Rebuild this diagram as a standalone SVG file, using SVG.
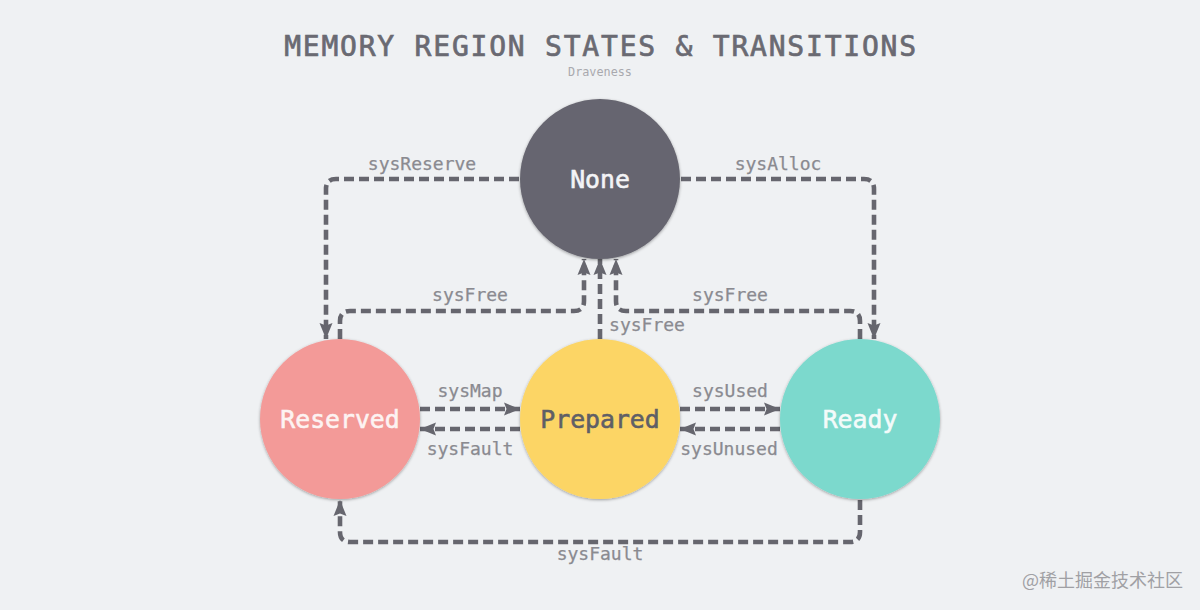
<svg xmlns="http://www.w3.org/2000/svg" width="1200" height="610" viewBox="0 0 1200 610">
<style>
text{font-family:"DejaVu Sans Mono","Liberation Mono",monospace;text-anchor:middle}
.t{font-size:28px;letter-spacing:1.78px;fill:#6a6a72;stroke:#6a6a72;stroke-width:.7px}
.s{font-size:11.8px;fill:#a9a9ae}
.l{font-size:18px;fill:#8a8a90;stroke:#8a8a90;stroke-width:.25px}
.n{font-size:24.8px;stroke-width:.6px}
.c{fill:none;stroke:#66666e;stroke-width:4.6;stroke-dasharray:10 5}
.w{font-family:"Noto Sans CJK SC","Noto Sans",sans-serif;font-size:18px;fill:#a0a0a4;text-anchor:end}
</style>
<defs>
<marker id="a" markerUnits="userSpaceOnUse" markerWidth="18" markerHeight="14" refX="16" refY="7" orient="auto"><path d="M0 .5L16 7L0 13.5L2.5 7Z" fill="#66666e"/></marker>
<filter id="sh" x="-10%" y="-10%" width="120%" height="120%"><feDropShadow dx="0" dy="1" stdDeviation="1.5" flood-color="#000" flood-opacity=".35"/></filter>
</defs>
<rect width="1200" height="610" fill="#eff1f3"/>
<text class="t" x="601" y="56">MEMORY REGION STATES &amp; TRANSITIONS</text>
<text class="s" x="600" y="76">Draveness</text>
<g id="connectors">
<path class="c" marker-end="url(#a)" d="M519 179H336Q326 179 326 189V339"/>
<path class="c" marker-end="url(#a)" d="M681 179H864Q874 179 874 189V339"/>
<path class="c" marker-end="url(#a)" d="M340 339V321Q340 311 350 311H574Q584 311 584 301V259"/>
<path class="c" marker-end="url(#a)" d="M600 339V259"/>
<path class="c" marker-end="url(#a)" d="M860 339V321Q860 311 850 311H626Q616 311 616 301V259"/>
<path class="c" marker-end="url(#a)" d="M420 409H520"/>
<path class="c" marker-end="url(#a)" d="M520 429H420"/>
<path class="c" marker-end="url(#a)" d="M680 409H780"/>
<path class="c" marker-end="url(#a)" d="M780 429H680"/>
<path class="c" marker-end="url(#a)" d="M860 500V532Q860 542 850 542H350Q340 542 340 532V500"/>
<text class="l" x="422" y="170">sysReserve</text>
<text class="l" x="778" y="170">sysAlloc</text>
<text class="l" x="470" y="301">sysFree</text>
<text class="l" x="730" y="301">sysFree</text>
<text class="l" x="647" y="331">sysFree</text>
<text class="l" x="470" y="397">sysMap</text>
<text class="l" x="470" y="455">sysFault</text>
<text class="l" x="730" y="397">sysUsed</text>
<text class="l" x="729" y="455">sysUnused</text>
<text class="l" x="600" y="560">sysFault</text>
</g>
<g id="none"><circle cx="600" cy="179" r="80" fill="#66656f" filter="url(#sh)"/><text class="n" x="600" y="188" fill="#f3f3f6" stroke="#f3f3f6">None</text></g>
<g id="reserved"><circle cx="340" cy="419" r="80" fill="#f39a98" filter="url(#sh)"/><text class="n" x="340" y="428" fill="#fdf3f2" stroke="#fdf3f2">Reserved</text></g>
<g id="prepared"><circle cx="600" cy="419" r="80" fill="#fcd565" filter="url(#sh)"/><text class="n" x="600" y="428" fill="#5f5f66" stroke="#5f5f66">Prepared</text></g>
<g id="ready"><circle cx="860" cy="419" r="80" fill="#7bd9cd" filter="url(#sh)"/><text class="n" x="860" y="428" fill="#f3fbfa" stroke="#f3fbfa">Ready</text></g>
<text class="w" x="1183" y="587">@稀土掘金技术社区</text>
</svg>
